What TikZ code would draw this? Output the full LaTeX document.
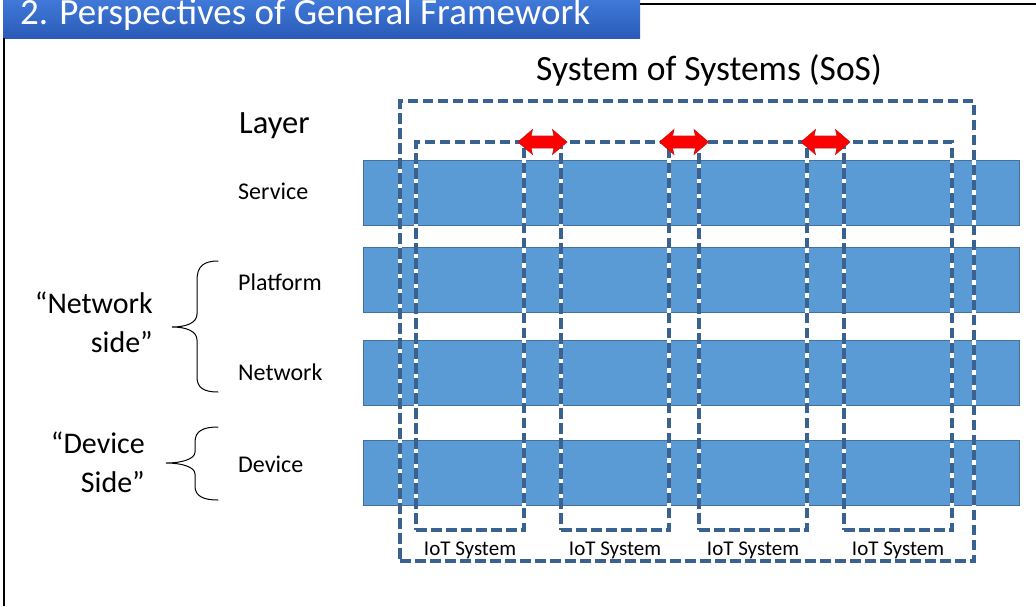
\documentclass[tikz,border=0pt]{standalone}
\usepackage{fontspec}
\setmainfont{Carlito}
\usetikzlibrary{positioning, calc}

\definecolor{bandblue}{RGB}{91,155,213}
\definecolor{bandedge}{RGB}{65,113,156}
\definecolor{dashblue}{RGB}{58,98,145}
\definecolor{titletop}{RGB}{64,121,216}
\definecolor{titlebot}{RGB}{42,91,184}
\definecolor{linkred}{RGB}{255,0,0}
\definecolor{linkedge}{RGB}{200,20,20}

\begin{document}
\begin{tikzpicture}[
        x=1pt, y=-1pt,
        band/.style={rectangle, draw=bandedge, line width=0.8pt, fill=bandblue, minimum width=656pt, minimum height=65pt, inner sep=0pt},
        dashbox/.style={rectangle, draw=dashblue, line width=3.5pt, dash pattern=on 10.5pt off 4.5pt, preaction={draw=white, solid, line width=3.5pt}, inner sep=0pt, outer sep=0pt},
        iotbox/.style={dashbox, minimum width=108pt, minimum height=388pt},
        iotlabel/.style={inner sep=0pt, font=\fontsize{21}{25}\selectfont},
        layerlabel/.style={inner sep=0pt, anchor=base west, font=\fontsize{24}{28}\selectfont},
        sidelabel/.style={inner sep=0pt, anchor=base east, align=right, font=\fontsize{30}{39}\selectfont},
        bracket/.style={line width=1pt, line cap=round},
        linkarrow/.style={fill=linkred, draw=linkedge, line width=0.6pt, line join=miter},
    ]
        \useasboundingbox (0,0) rectangle (1036,606);
        \clip (0,0) rectangle (1036,606);

        % title bar and frame
        \fill[top color=titletop, bottom color=titlebot] (3,0) rectangle (640,38);
        \node[inner sep=0pt, anchor=base west, text=white, font=\fontsize{37}{40}\selectfont] (title) at (20,24) {2. Perspectives of General Framework};
        \draw[line width=1.2pt] (640,4) -- (1036,4);
        \draw[line width=1.2pt] (4,38) -- (4,606);

        % layers
        \node[band] (service) at (691,192.5) {};
        \node[band] (platform) at (691,279.5) {};
        \node[band] (network) at (691,372.5) {};
        \node[band] (device) at (691,472.5) {};

        \node[inner sep=0pt, anchor=base west, font=\fontsize{32.5}{36}\selectfont] (layer) at (239,133) {Layer};
        \node[layerlabel] (lservice) at (238,199) {Service};
        \node[layerlabel] (lplatform) at (238,290) {Platform};
        \node[layerlabel] (lnetwork) at (238,380) {Network};
        \node[layerlabel] (ldevice) at (238,472) {Device};

        % system of systems
        \node[dashbox, minimum width=574pt, minimum height=460pt] (sos) at (687,331) {};
        \node[inner sep=0pt, anchor=base, font=\fontsize{35.5}{40}\selectfont] (sostitle) at (709,80) {System of Systems (SoS)};

        \node[iotbox] (iot1) at (470,336) {};
        \node[iotbox] (iot2) at (615,336) {};
        \node[iotbox] (iot3) at (753,336) {};
        \node[iotbox] (iot4) at (898,336) {};

        \foreach \b in {1,...,4}
            \node[iotlabel, below=12pt of iot\b] (liot\b) {IoT System};

        % links between systems
        \foreach \a/\b [count=\i] in {iot1/iot2, iot2/iot3, iot3/iot4} {
            \coordinate (link\i) at ($(\a.north east)!0.5!(\b.north west)$);
            \filldraw[linkarrow, shift={(link\i)}] (-24.5,0) -- (-10,-12.5) -- (-11.5,-6) -- (11.5,-6) -- (10,-12.5) -- (24.5,0) -- (10,12.5) -- (11.5,6) -- (-11.5,6) -- (-10,12.5) -- cycle;
        }

        % sides
        \node[sidelabel] (netside) at (153,352) {“Network\\side”};
        \node[sidelabel] (devside) at (145,492) {“Device\\Side”};

        \draw[bracket] (218,261) .. controls (204,261) and (197,266) .. (197,280) -- (197,314)
            .. controls (197,323) and (186,327) .. (172,327)
            .. controls (186,327) and (197,331) .. (197,340) -- (197,377)
            .. controls (197,388) and (204,392) .. (218,392);
        \draw[bracket] (218,427) .. controls (203,427) and (195,431) .. (195,442) -- (195,452)
            .. controls (195,459) and (182,463) .. (166,463)
            .. controls (182,463) and (195,467) .. (195,474) -- (195,486)
            .. controls (195,496) and (203,500) .. (218,500);
    \end{tikzpicture}
\end{document}
